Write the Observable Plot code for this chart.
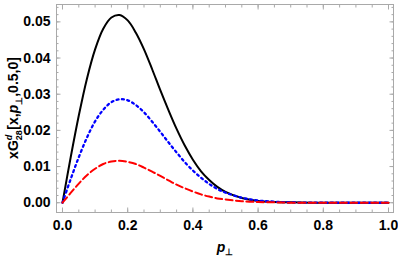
<!DOCTYPE html>
<html><head><meta charset="utf-8">
<script src="https://cdn.jsdelivr.net/npm/d3@7"></script>
<script src="https://cdn.jsdelivr.net/npm/@observablehq/plot@0.6"></script>
<style>body{margin:0;background:#fff}svg{display:block}</style>
</head><body><div id="chart"></div>
<script>
const p = [0,0.025,0.05,0.075,0.1,0.125,0.15,0.175,0.2,0.225,0.25,0.275,0.3,0.325,0.35,0.375,0.4,0.425,0.45,0.475,0.5,0.55,0.6,0.65,0.7,0.8,0.9,1.0];
const black = [0,0.0125,0.0241,0.0343,0.0424,0.0481,0.0512,0.0519,0.0504,0.0470,0.0424,0.0369,0.0311,0.0256,0.0204,0.0158,0.0119,0.0087,0.0063,0.0044,0.0030,0.0013,0.0005,0.0002,0.0001,0,0,0];
const blue = [0,0.0065,0.0126,0.0180,0.0225,0.0257,0.0278,0.0286,0.0283,0.0270,0.0250,0.0224,0.0196,0.0167,0.0139,0.0112,0.0089,0.0069,0.0052,0.0038,0.0028,0.0014,0.0006,0.0003,0.0001,0,0,0];
const red = [0,0.0027,0.0053,0.0076,0.0094,0.0107,0.0114,0.0116,0.0113,0.0107,0.0097,0.0086,0.0074,0.0062,0.0050,0.0040,0.0031,0.0023,0.0017,0.0012,0.0009,0.0004,0.0002,0.0001,0,0,0,0];
const yTicks = [0,0.01,0.02,0.03,0.04,0.05];
const xTicks = [0,0.2,0.4,0.6,0.8,1.0];
const yMinor = d3.range(0, 0.0545, 0.002);
const xMinor = d3.range(0, 1.001, 0.05);

const rows = (vals) => p.map((x, i) => ({p: x, v: vals[i]}));
const frameColor = "#a9a9a9";
const font = "'Liberation Sans', Arial, sans-serif";

const tickY = (anchor, ticks, size) => Plot.axisY({anchor, ticks, tickSize: -size, tickFormat: () => "", stroke: frameColor, label: null});
const tickX = (anchor, ticks, size) => Plot.axisX({anchor, ticks, tickSize: -size, tickFormat: () => "", stroke: frameColor, label: null});

const chart = Plot.plot({
  width: 398, height: 259,
  marginLeft: 56, marginRight: 5, marginTop: 4, marginBottom: 47,
  style: {fontFamily: font, background: "#fff"},
  x: {domain: [-0.0184, 1.0153]},
  y: {domain: [-0.0027, 0.0548]},
  marks: [
    Plot.frame({stroke: frameColor}),
    tickY("left", yMinor, 2.5), tickY("left", yTicks, 4.5),
    tickY("right", yMinor, 2.5), tickY("right", yTicks, 4.5),
    tickX("bottom", xMinor, 2.5), tickX("bottom", xTicks, 4.5),
    tickX("top", xMinor, 2.5), tickX("top", xTicks, 4.5),
    Plot.axisY({anchor: "left", ticks: yTicks, tickSize: 0, tickPadding: 6, tickFormat: d3.format(".2f"), fontSize: 14, fontWeight: "bold", fill: "#000", label: null}),
    Plot.axisX({anchor: "bottom", ticks: xTicks, tickSize: 0, tickPadding: 8, tickFormat: d3.format(".1f"), fontSize: 14, fontWeight: "bold", fill: "#000", label: null}),
    Plot.line(rows(black), {x: "p", y: "v", stroke: "#000", strokeWidth: 2, curve: "catmull-rom"}),
    Plot.line(rows(blue), {x: "p", y: "v", stroke: "#0000ff", strokeWidth: 2.3, strokeDasharray: "2,3.4", curve: "catmull-rom"}),
    Plot.line(rows(red), {x: "p", y: "v", stroke: "#ff0000", strokeWidth: 2, strokeDasharray: "7,3.4", curve: "catmull-rom"})
  ]
});
document.getElementById("chart").appendChild(chart);

const svg = d3.select(chart);
// y-axis title
const yt = svg.append("text")
  .attr("transform", "translate(18,108) rotate(-90)")
  .attr("text-anchor", "middle")
  .style("font-family", font).style("font-size", "14px").style("font-weight", "bold").attr("fill", "#000");
yt.append("tspan").text("xG");
yt.append("tspan").attr("dy", 4).style("font-size", "9px").text("28");
yt.append("tspan").attr("dx", -10).attr("dy", -10).style("font-size", "9px").style("font-style", "italic").text("d");
yt.append("tspan").attr("dx", 5).attr("dy", 6).text("[x,");
yt.append("tspan").style("font-style", "italic").text("p");
yt.append("tspan").attr("dy", 4).style("font-size", "9px").text("⊥");
yt.append("tspan").attr("dy", -4).text(",0.5,0]");
// x-axis title
const xt = svg.append("text")
  .attr("x", 225).attr("y", 252)
  .attr("text-anchor", "middle")
  .style("font-family", font).style("font-size", "14px").style("font-weight", "bold").attr("fill", "#000");
xt.append("tspan").style("font-style", "italic").text("p");
xt.append("tspan").attr("dy", 3).style("font-size", "9px").text("⊥");
</script></body></html>
